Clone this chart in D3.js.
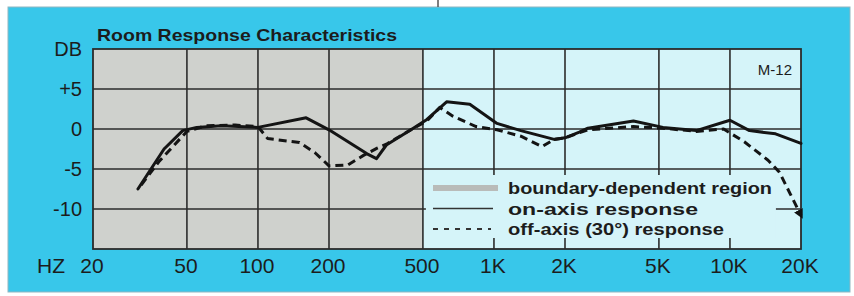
<!DOCTYPE html>
<html>
<head>
<meta charset="utf-8">
<script src="https://cdn.jsdelivr.net/npm/d3@7"></script>
<style>
  body { margin: 0; background: #fff; }
  text { font-family: "Liberation Sans", Arial, Helvetica, sans-serif; fill: #1c1c1c; }
</style>
</head>
<body>
<div id="chart"></div>
<script>
// values
var freqOn = [31, 40, 48, 55, 70, 100, 160, 200, 290, 318, 350, 450, 520, 630, 790, 1030, 1300, 1800, 2000, 2300, 2500, 3900, 5200, 7200, 10000, 12100, 15600, 20000];
var dbOn   = [-7.5, -2.5, -0.2, 0.2, 0.4, 0.2, 1.4, -0.1, -3.1, -3.7, -2.0, 0, 1.2, 3.4, 3.1, 0.7, -0.2, -1.3, -1.1, -0.4, 0.1, 1.0, 0.2, -0.2, 1.1, -0.2, -0.6, -1.8];

var freqOff = [32, 38, 50, 60, 80, 100, 110, 150, 175, 200, 240, 280, 320, 350, 450, 520, 590, 670, 840, 1030, 1300, 1600, 1800, 2000, 2500, 3900, 5200, 7200, 9400, 11500, 14500, 16200, 18000, 20000];
var dbOff   = [-7.0, -4.1, -0.3, 0.4, 0.5, 0.3, -1.2, -1.7, -3.0, -4.6, -4.5, -3.3, -2.4, -1.9, 0, 1.0, 2.7, 1.6, 0.3, -0.1, -0.9, -2.2, -1.3, -1.1, -0.1, 0.3, 0.1, -0.3, 0, -1.6, -3.9, -5.4, -8.1, -10.8];

var xTicks = [20, 50, 100, 200, 500, 1000, 2000, 5000, 10000, 20000];
var xTickLabels = ["20", "50", "100", "200", "500", "1K", "2K", "5K", "10K", "20K"];
var yTicks = [10, 5, 0, -5, -10];
var yTickLabels = ["DB", "+5", "0", "-5", "-10"];
var boundaryFreq = 500;

var legendLabels = ["boundary-dependent region", "on-axis response", "off-axis (30\u00b0) response"];

var W = 854, H = 296;
var svg = d3.select("#chart").append("svg")
  .attr("width", W).attr("height", H);

svg.append("rect").attr("width", W).attr("height", H).attr("fill", "#fff");

// blue panel
svg.append("rect")
  .attr("x", 8).attr("y", 7).attr("width", 842).attr("height", 285)
  .attr("fill", "#38c7ea")
  .attr("stroke", "#8fb7c2").attr("stroke-width", 1);
svg.append("line").attr("x1", 438).attr("x2", 438).attr("y1", 0).attr("y2", 7)
  .attr("stroke", "#555").attr("stroke-width", 1.5);

var x = d3.scaleLog().domain([20, 20000]).range([93, 801]);
var y = d3.scaleLinear().domain([-15, 10]).range([249, 49]);

var gridColor = "#2b2b2b";

// plot background: grey for boundary region, pale cyan above 500Hz
svg.append("rect")
  .attr("x", x(20)).attr("y", y(10))
  .attr("width", x(boundaryFreq) - x(20)).attr("height", y(-15) - y(10))
  .attr("fill", "#cfd1cd");
svg.append("rect")
  .attr("x", x(boundaryFreq)).attr("y", y(10))
  .attr("width", x(20000) - x(boundaryFreq)).attr("height", y(-15) - y(10))
  .attr("fill", "#d5f4f9");

var g = svg.append("g");

// grid
g.selectAll(".vgrid")
  .data(xTicks.slice(1, -1))
  .enter().append("line")
  .attr("x1", function(d){ return x(d); }).attr("x2", function(d){ return x(d); })
  .attr("y1", y(10)).attr("y2", y(-15))
  .attr("stroke", gridColor).attr("stroke-width", 1.6);

g.selectAll(".hgrid")
  .data(yTicks.slice(1))
  .enter().append("line")
  .attr("x1", x(20)).attr("x2", x(20000))
  .attr("y1", function(d){ return y(d); }).attr("y2", function(d){ return y(d); })
  .attr("stroke", gridColor).attr("stroke-width", 1.6);

// frame
g.append("rect")
  .attr("x", x(20)).attr("y", y(10))
  .attr("width", x(20000) - x(20)).attr("height", y(-15) - y(10))
  .attr("fill", "none").attr("stroke", gridColor).attr("stroke-width", 1.8);

// legend box hides the grid underneath
var legend = svg.append("g");
legend.append("rect")
  .attr("x", x(boundaryFreq) + 3).attr("y", 175)
  .attr("width", 350).attr("height", 63)
  .attr("fill", "#d5f4f9");

var swatches = [
  {stroke: "#b9bbb9", width: 6, dash: null, len: 65},
  {stroke: "#333", width: 1.6, dash: null, len: 60},
  {stroke: "#333", width: 2.2, dash: "5,6", len: 58}
];
var legendW = [264, 190, 216];
legendLabels.forEach(function(lab, i){
  var yy = 188 + i * 20.5;
  legend.append("line")
    .attr("x1", 433).attr("x2", 433 + swatches[i].len)
    .attr("y1", yy).attr("y2", yy)
    .attr("stroke", swatches[i].stroke)
    .attr("stroke-width", swatches[i].width)
    .attr("stroke-dasharray", swatches[i].dash);
  legend.append("text")
    .attr("x", 508).attr("y", yy + 6)
    .attr("font-size", 17).attr("font-weight", "bold")
    .attr("textLength", legendW[i]).attr("lengthAdjust", "spacingAndGlyphs")
    .text(lab);
});

// curves
var line = d3.line()
  .x(function(d){ return x(d[0]); })
  .y(function(d){ return y(d[1]); });

svg.append("defs").append("marker")
  .attr("id", "arrow")
  .attr("viewBox", "0 0 10 10")
  .attr("refX", 6).attr("refY", 5)
  .attr("markerWidth", 3.2).attr("markerHeight", 3.2)
  .attr("orient", "auto")
  .append("path").attr("d", "M0,0L10,5L0,10z").attr("fill", "#111");

var onData = d3.zip(freqOn, dbOn);
var offData = d3.zip(freqOff, dbOff);

svg.append("path")
  .datum(offData)
  .attr("fill", "none").attr("stroke", "#141414")
  .attr("stroke-width", 3)
  .attr("stroke-dasharray", "8,5")
  .attr("stroke-linejoin", "round")
  .attr("marker-end", "url(#arrow)")
  .attr("d", line);

svg.append("path")
  .datum(onData)
  .attr("fill", "none").attr("stroke", "#141414")
  .attr("stroke-width", 3)
  .attr("stroke-linejoin", "round")
  .attr("stroke-linecap", "round")
  .attr("d", line);

// axis labels
svg.selectAll(".ylab")
  .data(yTicks)
  .enter().append("text")
  .attr("x", 82).attr("y", function(d){ return y(d) + 7; })
  .attr("text-anchor", "end")
  .attr("font-size", 20)
  .text(function(d, i){ return yTickLabels[i]; });

svg.selectAll(".xlab")
  .data(xTicks)
  .enter().append("text")
  .attr("x", function(d){ return x(d) - 1; }).attr("y", 273)
  .attr("text-anchor", "middle")
  .attr("font-size", 21)
  .text(function(d, i){ return xTickLabels[i]; });

svg.append("text")
  .attr("x", 37).attr("y", 273)
  .attr("font-size", 21)
  .text("HZ");

// title and model tag
svg.append("text")
  .attr("x", 97).attr("y", 41)
  .attr("font-size", 17).attr("font-weight", "bold")
  .attr("textLength", 300).attr("lengthAdjust", "spacingAndGlyphs")
  .text("Room Response Characteristics");

svg.append("text")
  .attr("x", 792).attr("y", 75)
  .attr("text-anchor", "end")
  .attr("font-size", 15)
  .text("M-12");
</script>
</body>
</html>
